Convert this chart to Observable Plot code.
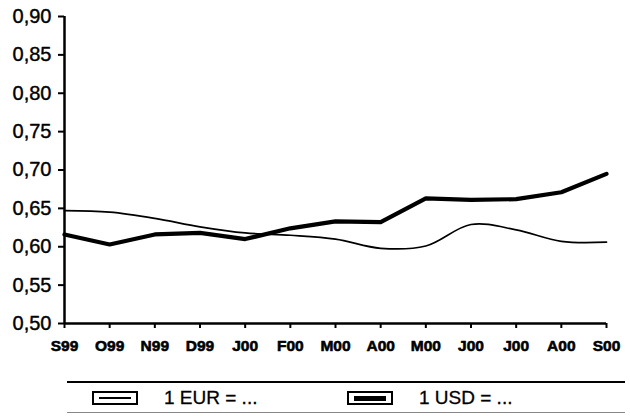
<!DOCTYPE html>
<html><head><meta charset="utf-8">
<script src="https://cdn.jsdelivr.net/npm/d3@7"></script>
<script src="https://cdn.jsdelivr.net/npm/@observablehq/plot@0.6"></script>
<style>
body{margin:0;background:#fff;font-family:"Liberation Sans",Arial,sans-serif;}
#wrap{position:relative;width:630px;height:416px;overflow:hidden;background:#fff}
#chart svg{display:block}
.hline{position:absolute;left:67px;width:558px;height:0;border-top:2px solid #000}
.item{position:absolute;top:390px;height:16px;display:flex;align-items:center;font-size:19px;color:#000;-webkit-text-stroke:0.3px #000}
.sw{width:42px;height:10px;border:2px solid #000;position:relative;margin-right:26px;box-sizing:content-box}
.sw i{position:absolute;left:5px;right:5px;top:50%;background:#000}
</style></head><body>
<div id="wrap"><div id="chart"></div>
<div class="hline" style="top:381px"></div>
<div class="hline" style="top:412px;border-top:1px solid #888"></div>
</div>
<script>
const months = ["S99","O99","N99","D99","J00","F00","M00","A00","M00","J00","J00","A00","S00"];
const eur = [0.647,0.645,0.637,0.626,0.618,0.615,0.610,0.598,0.601,0.629,0.622,0.607,0.606];
const usd = [0.616,0.603,0.616,0.618,0.610,0.624,0.633,0.632,0.663,0.661,0.662,0.671,0.695];
const yTicks = [0.50,0.55,0.60,0.65,0.70,0.75,0.80,0.85,0.90];
const seriesNames = ["1 EUR = ...","1 USD = ..."];

const idx = d3.range(months.length);
const fmt = d => d.toFixed(2).replace(".", ",");

const chart = Plot.plot({
  width: 630,
  height: 365,
  marginLeft: 64,
  marginRight: 24,
  marginTop: 16,
  marginBottom: 42,
  style: {fontFamily: '"Liberation Sans", Arial, sans-serif', color: "#000", background: "#fff"},
  x: {domain: [0, 12], axis: null},
  y: {domain: [0.5, 0.9], axis: null},
  marks: [
    Plot.axisY({ticks: yTicks, tickFormat: fmt, tickSize: 6, strokeWidth: 2, fontSize: 20, tickPadding: 7, label: null, textStroke: "#000", textStrokeWidth: 0.4}),
    Plot.axisX({ticks: idx, tickFormat: i => months[i], tickSize: 5, strokeWidth: 2, fontSize: 15.5, fontWeight: "bold", tickPadding: 11, label: null, textStroke: "#000", textStrokeWidth: 0.6}),
    Plot.ruleX([0], {stroke: "#000", strokeWidth: 2.5}),
    Plot.ruleY([0.5], {stroke: "#000", strokeWidth: 2.5}),
    Plot.line(idx, {x: i => i, y: i => eur[i], curve: "catmull-rom", stroke: "#000", strokeWidth: 1.7}),
    Plot.line(idx, {x: i => i, y: i => usd[i], curve: "linear", stroke: "#000", strokeWidth: 4.2, strokeLinejoin: "round"})
  ]
});
document.getElementById("chart").appendChild(chart);

const wrap = document.getElementById("wrap");
const legendPos = [92, 347];
seriesNames.forEach((name, k) => {
  const it = document.createElement("div");
  it.className = "item";
  it.style.left = legendPos[k] + "px";
  const sw = document.createElement("span");
  sw.className = "sw";
  const bar = document.createElement("i");
  const h = k === 0 ? 2 : 5;
  bar.style.height = h + "px";
  bar.style.marginTop = (-h / 2) + "px";
  sw.appendChild(bar);
  it.appendChild(sw);
  const t = document.createElement("span");
  t.textContent = name;
  it.appendChild(t);
  wrap.appendChild(it);
});
</script>
</body></html>
